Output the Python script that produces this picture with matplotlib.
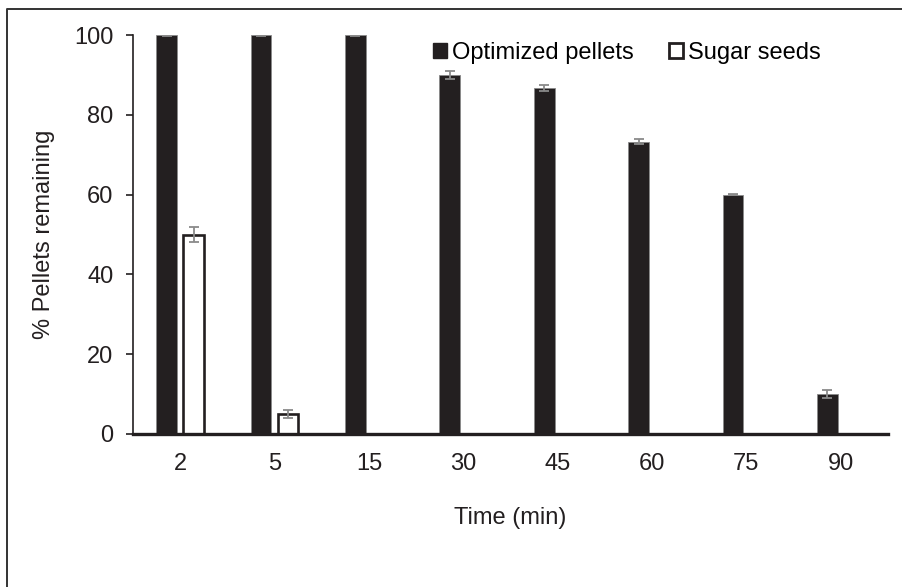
import matplotlib
matplotlib.use("Agg")
import matplotlib.pyplot as plt
from matplotlib.lines import Line2D
import numpy as np

categories = ["2", "5", "15", "30", "45", "60", "75", "90"]
optimized = [100, 100, 100, 90, 86.7, 73.3, 60, 10]
optimized_err = [0.3, 0.3, 0.2, 1.1, 0.7, 0.7, 0.2, 1.1]
sugar = [50, 5, 0, 0, 0, 0, 0, 0]
sugar_err = [2.0, 1.0, 0, 0, 0, 0, 0, 0]
yticks = [0, 20, 40, 60, 80, 100]

plt.rcParams['font.family'] = ['Liberation Sans', 'DejaVu Sans']
dark = '#231f20'
gray = '#8a8a8a'
fs = 17

fig = plt.figure(figsize=(9.02, 5.87), dpi=100)
ax = fig.add_axes([133/902, 1-434/587, (888-133)/902, (434-35)/587])

x = np.arange(len(categories))
w = 0.22
off = 0.143
ax.bar(x - off, optimized, w, color=dark, edgecolor=gray, linewidth=0.6,
       label='Optimized pellets', zorder=2)
ax.errorbar(x - off, optimized, yerr=optimized_err, fmt='none', ecolor=gray,
            elinewidth=1.3, capsize=3.6, capthick=1.3, zorder=3)
sx = [xi + off for xi, v in zip(x, sugar) if v > 0]
sv = [v for v in sugar if v > 0]
se = [e for e, v in zip(sugar_err, sugar) if v > 0]
ax.bar(sx, sv, w, color='white', edgecolor=dark, linewidth=1.9, zorder=2)
ax.errorbar(sx, sv, yerr=se, fmt='none', ecolor=gray,
            elinewidth=1.3, capsize=3.6, capthick=1.3, zorder=3)

ax.set_xlim(-0.5, len(categories) - 0.5)
ax.set_ylim(0, 100)
ax.set_xticks(x)
ax.set_xticklabels(categories, fontsize=fs, color=dark)
ax.set_yticks(yticks)
ax.set_yticklabels([str(t) for t in yticks], fontsize=fs, color=dark)
ax.tick_params(axis='x', length=0, pad=14)
ax.tick_params(axis='y', length=5, width=1.2, color=dark, pad=9)
for s in ['top', 'right']:
    ax.spines[s].set_visible(False)
ax.spines['left'].set_color(dark)
ax.spines['left'].set_linewidth(1.2)
ax.spines['bottom'].set_color(dark)
ax.spines['bottom'].set_linewidth(2.4)
ax.spines['bottom'].set_zorder(4)

ax.set_xlabel('Time (min)', fontsize=fs, color=dark, labelpad=23)
ax.set_ylabel('% Pellets remaining', fontsize=fs, color=dark, labelpad=14)

handles = [
    plt.Rectangle((0, 0), 1, 1, facecolor=dark, edgecolor=dark),
    plt.Rectangle((0, 0), 1, 1, facecolor='white', edgecolor=dark, linewidth=2),
]
ax.legend(handles, ['Optimized pellets', 'Sugar seeds'], ncol=2, frameon=False,
          fontsize=fs, handlelength=0.6, handleheight=0.6, handletextpad=0.2,
          columnspacing=1.5, loc='center left',
          bbox_to_anchor=((433-133)/(888-133), 1 - (53-35)/(434-35)),
          borderaxespad=0, borderpad=0)

# outer frame
fig.add_artist(Line2D([7/902, 7/902, 1.0], [0.0, 1-9/587, 1-9/587],
                      transform=fig.transFigure, color='#333333', linewidth=1.4))

fig.savefig('out.png', dpi=100)
